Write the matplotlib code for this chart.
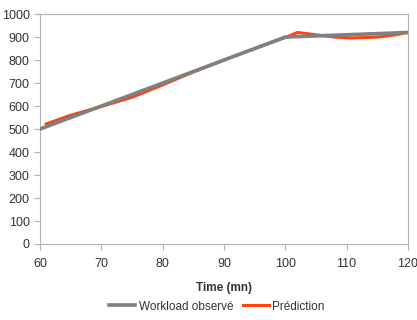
import matplotlib
matplotlib.use("Agg")
import matplotlib.pyplot as plt
from matplotlib import font_manager

names = {f.name for f in font_manager.fontManager.ttflist}
fam = "Liberation Sans Narrow" if "Liberation Sans Narrow" in names else "Liberation Sans"
plt.rcParams['font.family'] = [fam, 'DejaVu Sans']

obs_t = [60, 65, 70, 75, 80, 85, 90, 95, 100, 105, 110, 115, 120]
obs_v = [500, 550, 600, 650, 700, 750, 800, 850, 900, 905, 910, 915, 920]
pred_t = [61, 65, 70, 75, 80, 85, 90, 95, 100, 102, 105, 108, 111, 115, 118, 120]
pred_v = [522, 560, 598, 638, 692, 748, 800, 850, 898, 920, 910, 900, 896, 900, 910, 920]
xticks = [60, 70, 80, 90, 100, 110, 120]
yticks = list(range(0, 1001, 100))

fig = plt.figure(figsize=(4.17, 3.2), dpi=100)
ax = fig.add_axes([0.096, 0.2375, 0.882, 0.7185])
ax.plot(obs_t, obs_v, color="#808080", lw=2.6, label="Workload observé", zorder=3)
ax.plot(pred_t, pred_v, color="#ff420e", lw=2.2, label="Prédiction", zorder=2)
ax.set_xlim(60, 120)
ax.set_ylim(0, 1000)
ax.set_xticks(xticks)
ax.set_yticks(yticks)
for s in ax.spines.values():
    s.set_color("#b3b3b3")
    s.set_linewidth(0.8)
ax.tick_params(axis='both', colors="#b3b3b3", labelcolor="#333333", labelsize=9, length=4, width=0.8)
ax.tick_params(axis='x', pad=6)
ax.set_xlabel("Time (mn)", fontsize=8.5, fontweight='bold', color="#333333", labelpad=9)
leg = fig.legend(loc='lower center', bbox_to_anchor=(0.52, -0.01), ncol=2, frameon=False,
                 fontsize=8.5, handlelength=2.2, columnspacing=0.8, handletextpad=0.3)
for t in leg.get_texts():
    t.set_color("#333333")
fig.savefig("out.png", dpi=100)
